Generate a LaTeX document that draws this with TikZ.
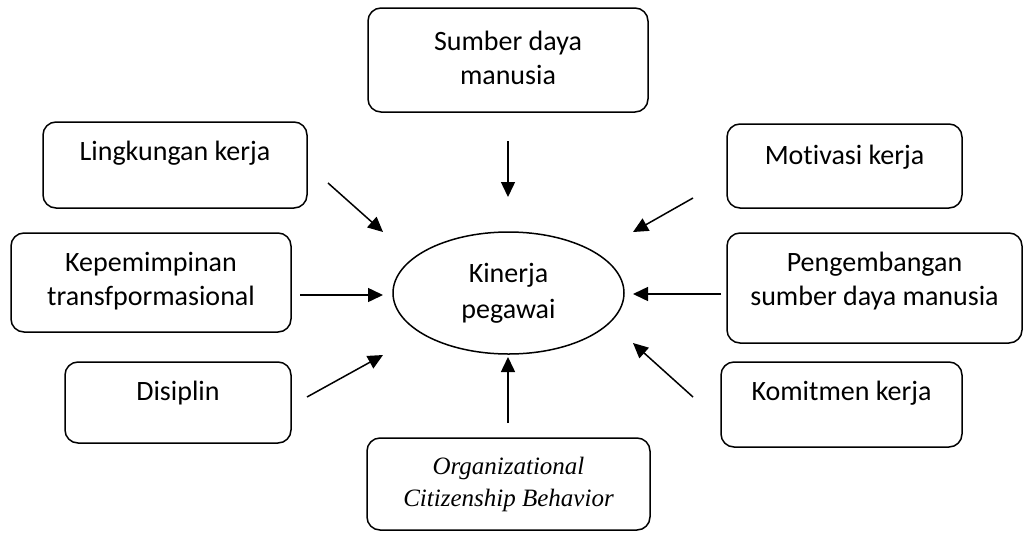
\documentclass[tikz,border=0pt]{standalone}
\usepackage{fontspec}
\setmainfont{Carlito}[Ligatures={NoCommon}]
\newfontfamily\ocbfont{Liberation Serif}
\usetikzlibrary{arrows.meta,shapes.geometric}
\begin{document}
\begin{tikzpicture}[x=1pt,y=-1pt,
  box/.style={draw, line width=1.5pt, rounded corners=13pt, inner sep=0pt},
  txt/.style={align=center, font=\fontsize{28}{34}\selectfont, inner sep=0pt},
  arr/.style={line width=1.5pt, -{Triangle[length=15pt,width=14pt]}}]
\useasboundingbox (0,0) rectangle (1027,533);
% boxes
\node[box, minimum width=280pt, minimum height=104pt] (sdm) at (508,60) {};
\node[txt] (sdmT) at (508,58) {Sumber daya\\manusia};
\node[box, minimum width=264pt, minimum height=86pt] (ling) at (175,165) {};
\node[txt] (lingT) at (175,153) {Lingkungan kerja};
\node[box, minimum width=280pt, minimum height=99pt] (kep) at (151,282.5) {};
\node[txt] (kepT) at (151,281) {Kepemimpinan\\transfpormasional};
\node[box, minimum width=226pt, minimum height=81pt] (dis) at (178,402.5) {};
\node[txt] (disT) at (178,393) {Disiplin};
\node[box, minimum width=235pt, minimum height=84pt] (mot) at (844.5,166) {};
\node[txt] (motT) at (844.5,157) {Motivasi kerja};
\node[box, minimum width=295pt, minimum height=110pt] (peng) at (874.5,288) {};
\node[txt] (pengT) at (874.5,281.5) {Pengembangan\\sumber daya manusia};
\node[box, minimum width=241pt, minimum height=85pt] (kom) at (841.5,404.5) {};
\node[txt] (komT) at (841.5,393) {Komitmen kerja};
\node[box, minimum width=283pt, minimum height=92pt] (ocb) at (508.5,484) {};
\node[align=center, inner sep=0pt, font=\ocbfont\itshape\fontsize{25}{32}\selectfont] (ocbT) at (508.5,484) {Organizational\\Citizenship Behavior};
% ellipse
\node[draw, ellipse, line width=1.5pt, minimum width=231pt, minimum height=122pt, inner sep=0pt] (kin) at (508.5,293) {};
\node[txt, font=\fontsize{28}{36}\selectfont] (kinT) at (508.5,293) {Kinerja\\pegawai};
% arrow end points
\coordinate (s1) at (508,141); \coordinate (e1) at (508,197);
\coordinate (s2) at (328,183); \coordinate (e2) at (383,232);
\coordinate (s3) at (300,295); \coordinate (e3) at (383,295);
\coordinate (s4) at (307,397); \coordinate (e4) at (383,355);
\coordinate (s5) at (693,198); \coordinate (e5) at (633,232);
\coordinate (s6) at (721,294); \coordinate (e6) at (633,294);
\coordinate (s7) at (693,397); \coordinate (e7) at (633,343);
\coordinate (s8) at (508,423); \coordinate (e8) at (508,357);
\foreach \i in {1,...,8} { \draw[arr] (s\i) -- (e\i); }
\end{tikzpicture}
\end{document}
